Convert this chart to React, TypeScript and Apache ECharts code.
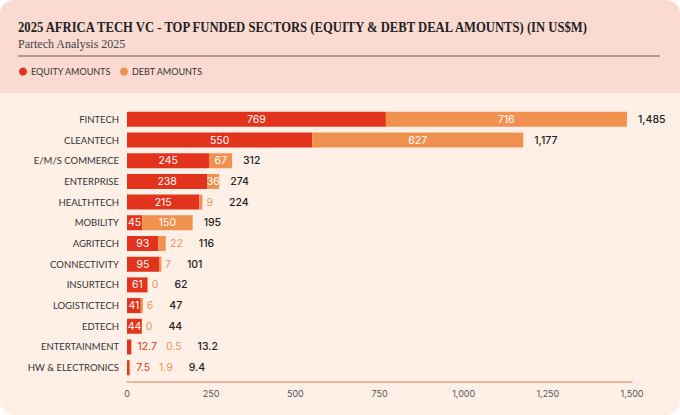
import React, { useEffect, useRef } from "react";
import * as echarts from "echarts";

const categories = [
  "FINTECH",
  "CLEANTECH",
  "E/M/S COMMERCE",
  "ENTERPRISE",
  "HEALTHTECH",
  "MOBILITY",
  "AGRITECH",
  "CONNECTIVITY",
  "INSURTECH",
  "LOGISTICTECH",
  "EDTECH",
  "ENTERTAINMENT",
  "HW & ELECTRONICS",
];
const equityAmounts = [769, 550, 245, 238, 215, 45, 93, 95, 61, 41, 44, 12.7, 7.5];
const debtAmounts = [716, 627, 67, 36, 9, 150, 22, 7, 0, 6, 0, 0.5, 1.9];
const totalAmounts = [1485, 1177, 312, 274, 224, 195, 116, 101, 62, 47, 44, 13.2, 9.4];
const xTicks = [0, 250, 500, 750, 1000, 1250, 1500];

const TITLE = "2025 AFRICA TECH VC - TOP FUNDED SECTORS (EQUITY & DEBT DEAL AMOUNTS) (IN US$M)";
const SUBTITLE = "Partech Analysis 2025";

const EQUITY = "#E2341D";
const DEBT = "#F0914F";
const SANS = "Inter, 'Noto Sans', sans-serif";
const LABEL_SANS = "Lato, 'Noto Sans', sans-serif";
const SERIF = "'Liberation Serif', 'DejaVu Serif', serif";
const INSIDE_MIN = 30;

const fmt = (v: number) => v.toLocaleString("en-US");

export default function App() {
  const ref = useRef<HTMLDivElement>(null);
  useEffect(() => {
    if (!ref.current) return;
    const chart = echarts.init(ref.current, undefined, { renderer: "svg" });
    const option = {
      animation: false,
      backgroundColor: "transparent",
      graphic: [
        {
          type: "rect",
          z: -10,
          shape: { x: 0, y: 0, width: 680, height: 415, r: 14 },
          style: { fill: "#FEF0E7" },
        },
        {
          type: "rect",
          z: -9,
          shape: { x: 0, y: 0, width: 680, height: 93, r: [14, 14, 0, 0] },
          style: { fill: "#FADAD1" },
        },
        {
          type: "line",
          z: -8,
          shape: { x1: 18, y1: 56, x2: 660, y2: 56 },
          style: { stroke: "#A37E76", lineWidth: 1.5 },
        },
        {
          type: "text",
          x: 18,
          y: 27,
          scaleX: 0.872,
          style: {
            text: TITLE,
            fontFamily: SERIF,
            fontWeight: "bold",
            fontSize: 14.5,
            fill: "#222",
            verticalAlign: "middle",
          },
        },
        {
          type: "text",
          x: 18,
          y: 44,
          style: {
            text: SUBTITLE,
            fontFamily: SERIF,
            fontSize: 12,
            fill: "#444",
            verticalAlign: "middle",
          },
        },
      ],
      legend: {
        data: ["EQUITY AMOUNTS", "DEBT AMOUNTS"],
        left: 14,
        top: 62,
        icon: "circle",
        itemWidth: 8,
        itemHeight: 8,
        itemGap: 9,
        textStyle: { fontFamily: LABEL_SANS, fontSize: 9, color: "#333", padding: [0, 0, 0, -1] },
      },
      grid: { left: 127, right: 48, top: 109, height: 269, containLabel: false },
      xAxis: {
        type: "value",
        min: 0,
        max: 1500,
        interval: 250,
        offset: 4,
        axisLine: { show: true, lineStyle: { color: "#E9A084", width: 1.5 } },
        axisTick: { show: false },
        splitLine: { show: false },
        axisLabel: {
          margin: 7,
          fontFamily: SANS,
          fontSize: 9,
          color: "#555",
          formatter: (v: number) => (xTicks.includes(v) ? fmt(v) : ""),
        },
      },
      yAxis: {
        type: "category",
        data: categories,
        inverse: true,
        axisLine: { show: false },
        axisTick: { show: false },
        axisLabel: { margin: 8, fontFamily: LABEL_SANS, fontSize: 9.5, color: "#333" },
      },
      series: [
        {
          name: "EQUITY AMOUNTS",
          type: "bar",
          stack: "a",
          barWidth: 15,
          itemStyle: { color: EQUITY },
          label: {
            position: "inside",
            color: "#fff",
            fontFamily: SANS,
            fontSize: 10.5,
            formatter: (p: any) => fmt(p.value),
          },
          data: equityAmounts.map((v) => ({ value: v, label: { show: v >= INSIDE_MIN } })),
        },
        {
          name: "DEBT AMOUNTS",
          type: "bar",
          stack: "a",
          barWidth: 15,
          itemStyle: { color: DEBT },
          label: {
            position: "inside",
            color: "#fff",
            fontFamily: SANS,
            fontSize: 10.5,
            formatter: (p: any) => fmt(p.value),
          },
          data: debtAmounts.map((v) => ({ value: v, label: { show: v >= INSIDE_MIN } })),
        },
        {
          name: "TOTAL",
          type: "bar",
          barWidth: 15,
          barGap: "-100%",
          silent: true,
          itemStyle: { color: "rgba(0,0,0,0)" },
          label: {
            show: true,
            position: "right",
            distance: 4,
            fontFamily: SANS,
            fontSize: 10.5,
            formatter: (p: any) => {
              const i = p.dataIndex;
              let s = "";
              if (equityAmounts[i] < INSIDE_MIN) s += "{e|" + fmt(equityAmounts[i]) + "}";
              if (debtAmounts[i] < INSIDE_MIN) s += "{d|" + fmt(debtAmounts[i]) + "}";
              s += (s ? "{t|" : "{t1|") + fmt(totalAmounts[i]) + "}";
              return s;
            },
            rich: {
              e: { color: "#D83A20", fontFamily: SANS, fontSize: 10.5, padding: [0, 9, 0, 2] },
              d: { color: "#EE9556", fontFamily: SANS, fontSize: 10.5, padding: [0, 16, 0, 0] },
              t: { color: "#222", fontFamily: SANS, fontSize: 10.5, fontWeight: 500 },
              t1: { color: "#222", fontFamily: SANS, fontSize: 10.5, fontWeight: 500, padding: [0, 0, 0, 7] },
            },
          },
          data: totalAmounts,
        },
      ],
    };
    chart.setOption(option as any);
    return () => chart.dispose();
  }, []);
  return (
    <div
      ref={ref}
      style={{ position: "absolute", left: 0, top: 0, width: 680, height: 415 }}
    />
  );
}
